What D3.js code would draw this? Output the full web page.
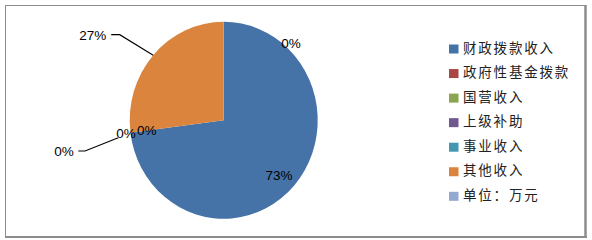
<!DOCTYPE html>
<html><head><meta charset="utf-8">
<script src="https://cdn.jsdelivr.net/npm/d3@7"></script>
<style>
html,body{margin:0;padding:0;background:#fff;}
svg{display:block;}
</style></head>
<body>
<svg id="chart" width="592" height="240"></svg>
<script>
const categories = ["财政拨款收入","政府性基金拨款","国营收入","上级补助","事业收入","其他收入","单位：万元"];
const values = [73, 0, 0, 0, 0, 27, 0];
const colors = ["#4572A7","#AA4643","#89A54E","#71588F","#4198AF","#DB843D","#93A9CF"];
const zeroLabels = ["0%","0%","0%","0%"];

const svg = d3.select("#chart");

// frame
svg.append("rect").attr("x",5.5).attr("y",5.5).attr("width",580).attr("height",231)
  .attr("fill","#fff").attr("stroke","#8c8c8c").attr("stroke-width",1);
svg.append("line").attr("x1",585.5).attr("x2",585.5).attr("y1",5).attr("y2",238)
  .attr("stroke","#8c8c8c").attr("stroke-width",2.5);
svg.append("line").attr("x1",5).attr("x2",587).attr("y1",237).attr("y2",237)
  .attr("stroke","#8c8c8c").attr("stroke-width",2);

const cx = 223.7, cy = 120.3, rx = 94, ry = 98.5;
const sy = ry / rx;
const total = d3.sum(values);
const pie = d3.pie().sort(null).value(d => d)(values);
const arc = d3.arc().innerRadius(0).outerRadius(rx);

const g = svg.append("g").attr("transform", `translate(${cx},${cy})`);
g.append("g").attr("transform", `scale(1,${sy})`)
  .selectAll("path").data(pie.filter(d => d.value > 0)).join("path")
  .attr("d", arc)
  .attr("fill", d => colors[d.index]);

const pct = v => Math.round(v / total * 100) + "%";
const pt = (ang, f) => [Math.sin(ang) * rx * f, -Math.cos(ang) * ry * f];
const font = "'Liberation Sans', Arial, sans-serif";
const fs = 13.5;

// 73% inside
const big = pie[0];
const pBig = pt((big.startAngle + big.endAngle) / 2, 0.8);
g.append("text").attr("x", pBig[0] - 1).attr("y", pBig[1] + 3)
  .attr("text-anchor","middle").attr("dominant-baseline","central")
  .attr("font-family", font).attr("font-size", fs).attr("fill","#000")
  .text(pct(big.value));

// 27% with leader line
const oth = pie[5];
const pe = pt((oth.startAngle + oth.endAngle) / 2, 1.0);
const elbow = [pe[0] - 33.5, pe[1] - 20.5];
const endL = [elbow[0] - 8.5, elbow[1]];
g.append("polyline").attr("points", [pe, elbow, endL].map(p => p.join(",")).join(" "))
  .attr("fill","none").attr("stroke","#000").attr("stroke-width",1.1);
g.append("text").attr("x", endL[0] - 5).attr("y", endL[1] + 1)
  .attr("text-anchor","end").attr("dominant-baseline","central")
  .attr("font-family", font).attr("font-size", fs).attr("fill","#000")
  .text(pct(oth.value));

// zero-value labels (offsets from pie centre, as placed in the reference)
const zeroPos = [[67.3,-77.3],[-97.7,13.2],[-77,10.7],[-159.7,31.7]];
zeroLabels.forEach((t,i) => {
  g.append("text").attr("x", zeroPos[i][0]).attr("y", zeroPos[i][1])
    .attr("text-anchor","middle").attr("dominant-baseline","central")
    .attr("font-family", font).attr("font-size", fs).attr("fill","#000")
    .text(pct(values[i+1]));
});
// leader for bottom-left 0%
g.append("polyline").attr("points", [[-105.4,17.4], [-138.7,30.7], [-145.4,30.7]].map(p => p.join(",")).join(" "))
  .attr("fill","none").attr("stroke","#000").attr("stroke-width",1.1);

// legend
const lg = svg.append("g").attr("transform","translate(449,0)");
const y0 = 46.7, step = 24.55;
categories.forEach((c,i) => {
  const y = y0 + i * step;
  lg.append("rect").attr("x",0).attr("y", y - 2.2).attr("width",9.5).attr("height",9)
    .attr("fill", colors[i]);
  lg.append("text").attr("x",14).attr("y", y).attr("dominant-baseline","central")
    .attr("font-family","'Noto Sans CJK SC', sans-serif").attr("font-size",13.5)
    .attr("letter-spacing","1.8px").attr("fill","#222").text(c);
});
</script>
</body></html>
